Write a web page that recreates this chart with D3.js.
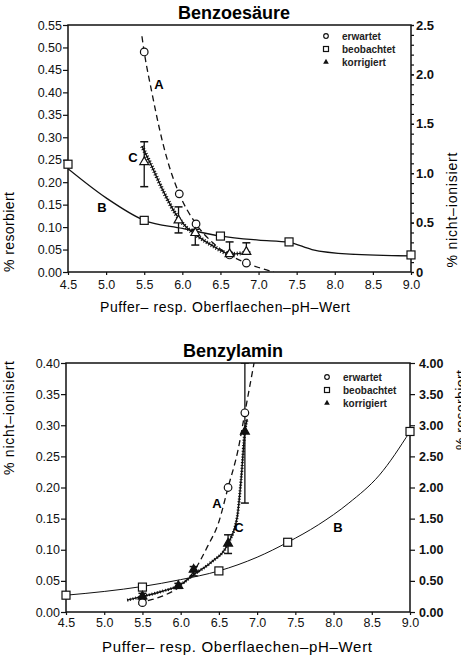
<!DOCTYPE html>
<html>
<head>
<meta charset="utf-8">
<script src="https://cdn.jsdelivr.net/npm/d3@7"></script>
<style>
  body { margin: 0; background: #fff; }
  svg { display: block; font-family: "Liberation Sans", Arial, sans-serif; }
</style>
</head>
<body>
<svg id="svg"></svg>
<script>
// --- Benzoesäure (oben) ---
const phTicks = [4.5, 5.0, 5.5, 6.0, 6.5, 7.0, 7.5, 8.0, 8.5, 9.0]
const benzoeLeftTicks = [0, 0.05, 0.1, 0.15, 0.2, 0.25, 0.3, 0.35, 0.4, 0.45, 0.5, 0.55]
const benzoeRightTicks = [0, 0.5, 1.0, 1.5, 2.0, 2.5]
const benzoeRightLabels = ['0', '0.5', '1.0', '1.5', '2.0', '2.5']

const benzoeErwartetPH = [5.5, 5.96, 6.18, 6.62, 6.84]
const benzoeErwartet = [0.49, 0.174, 0.107, 0.038, 0.02]
const benzoeBeobachtetPH = [4.5, 5.5, 6.5, 7.4, 9.0]
const benzoeBeobachtet = [0.24, 0.115, 0.08, 0.067, 0.038]
const benzoeKorrigiertPH = [5.5, 5.95, 6.17, 6.62, 6.84]
const benzoeKorrigiert = [0.245, 0.115, 0.087, 0.04, 0.045]
const benzoeKorrLo = [0.19, 0.087, 0.06, 0.04, 0.045]
const benzoeKorrHi = [0.29, 0.145, 0.095, 0.067, 0.065]

const benzoeA_PH = [5.47, 5.5, 5.6, 5.74, 5.82, 5.96, 6.18, 6.4, 6.62, 6.84, 7.0, 7.2]
const benzoeA = [0.525, 0.49, 0.40, 0.29, 0.24, 0.174, 0.107, 0.065, 0.038, 0.02, 0.01, 0.0]
const benzoeB_PH = [4.5, 5.0, 5.5, 6.0, 6.5, 7.0, 7.4, 7.7, 8.2, 9.0]
const benzoeB = [0.23, 0.165, 0.115, 0.097, 0.08, 0.071, 0.066, 0.05, 0.04, 0.036]
const benzoeC_PH = [5.47, 5.6, 5.75, 5.91, 6.05, 6.2, 6.4, 6.63, 6.78]
const benzoeC = [0.28, 0.235, 0.18, 0.13, 0.1, 0.08, 0.058, 0.04, 0.042]

// --- Benzylamin (unten) ---
const aminLeftTicks = [0, 0.05, 0.1, 0.15, 0.2, 0.25, 0.3, 0.35, 0.4]
const aminRightTicks = [0, 0.5, 1.0, 1.5, 2.0, 2.5, 3.0, 3.5, 4.0]

const aminErwartetPH = [5.5, 6.62, 6.84]
const aminErwartet = [0.015, 0.2, 0.32]
const aminBeobachtetPH = [4.5, 5.5, 6.5, 7.4, 9.0]
const aminBeobachtet = [0.027, 0.04, 0.066, 0.112, 0.29]
const aminKorrigiertPH = [5.5, 5.97, 6.17, 6.62, 6.84]
const aminKorrigiert = [0.025, 0.042, 0.068, 0.11, 0.29]
const aminKorrLo = [0.02, 0.038, 0.058, 0.094, 0.175]
const aminKorrHi = [0.03, 0.046, 0.073, 0.124, 0.40]

const aminA_PH = [5.45, 5.5, 5.75, 6.0, 6.17, 6.35, 6.5, 6.62, 6.75, 6.84, 6.96]
const aminA = [0.012, 0.015, 0.025, 0.042, 0.065, 0.105, 0.145, 0.2, 0.26, 0.32, 0.40]
const aminB_PH = [4.5, 5.0, 5.5, 6.0, 6.5, 7.0, 7.4, 7.8, 8.2, 8.6, 9.0]
const aminB = [0.027, 0.033, 0.041, 0.052, 0.066, 0.088, 0.112, 0.14, 0.175, 0.22, 0.29]
const aminC_PH = [5.3, 5.5, 5.75, 6.0, 6.17, 6.4, 6.62, 6.74, 6.79, 6.84, 6.87]
const aminC = [0.019, 0.025, 0.033, 0.044, 0.06, 0.08, 0.11, 0.153, 0.212, 0.29, 0.31]

const legendLabels = ['erwartet', 'beobachtet', 'korrigiert']
const xTitle = 'Puffer\u2013 resp. Oberflaechen\u2013pH\u2013Wert'

const zip = (xs, ys) => xs.map((x, i) => [x, ys[i]])

const svg = d3.select('#svg').attr('width', 461).attr('height', 658)

const drawPanel = (cfg) => {
	let x = d3.scaleLinear().domain([4.5, 9]).range([cfg.left, cfg.right])
	let y = d3.scaleLinear().domain([0, cfg.yMax]).range([cfg.bottom, cfg.top])
	let yR = d3.scaleLinear().domain([0, cfg.rMax]).range([cfg.bottom, cfg.top])

	let g = svg.append('g')

	g.append('clipPath').attr('id', cfg.id)
	.append('rect')
	.attr('x', cfg.left).attr('y', cfg.top)
	.attr('width', cfg.right - cfg.left).attr('height', cfg.bottom - cfg.top)

	// frame
	g.append('rect')
	.attr('x', cfg.left).attr('y', cfg.top)
	.attr('width', cfg.right - cfg.left).attr('height', cfg.bottom - cfg.top)
	.attr('fill', 'none').attr('stroke', '#111').attr('stroke-width', 1.5)

	// left axis
	let left = g.append('g').attr('transform', `translate(${cfg.left},0)`)
	.call(d3.axisLeft(y).tickValues(cfg.leftTicks).tickFormat(d3.format('.2f')).tickSize(5).tickPadding(1))
	left.select('.domain').remove()
	left.selectAll('text').attr('font-size', cfg.tickFont).attr('fill', '#111')

	// right axis
	let right = g.append('g').attr('transform', `translate(${cfg.right},0)`)
	.call(d3.axisRight(yR).tickValues(cfg.rightTicks).tickFormat((d, i) => cfg.rightLabels[i]).tickSize(cfg.rTick).tickPadding(cfg.rPad))
	right.select('.domain').remove()
	right.selectAll('text').attr('font-size', cfg.rFont).attr('font-weight', 'bold').attr('fill', '#111')
	if (cfg.minor) {
		g.append('g').attr('transform', `translate(${cfg.right},0)`)
		.call(d3.axisRight(yR).tickValues(d3.range(0, cfg.rMax + 0.001, 0.1)).tickFormat('').tickSize(3))
		.select('.domain').remove()
	}

	// bottom axis
	let bottom = g.append('g').attr('transform', `translate(0,${cfg.bottom})`)
	.call(d3.axisBottom(x).tickValues(phTicks).tickFormat(d3.format('.1f')).tickSize(3).tickPadding(cfg.xPad))
	bottom.select('.domain').remove()
	bottom.selectAll('text').attr('font-size', cfg.tickFont).attr('fill', '#111')

	g.selectAll('.tick line').attr('stroke', '#111').attr('stroke-width', 1.2)

	// title
	g.append('text')
	.attr('x', cfg.titleX).attr('y', cfg.top - 6)
	.attr('text-anchor', 'middle').attr('font-size', 18).attr('font-weight', 'bold')
	.text(cfg.title)

	// axis titles
	g.append('text')
	.attr('x', cfg.xTitleX).attr('y', cfg.xTitleY)
	.attr('text-anchor', 'middle').attr('font-size', cfg.xTitleFont)
	.attr('textLength', cfg.xTitleLen).attr('lengthAdjust', 'spacing')
	.text(xTitle)

	cfg.yTitles.forEach(t => {
		g.append('text')
		.attr('transform', `translate(${t.x},${t.y}) rotate(-90)`)
		.attr('text-anchor', 'middle').attr('font-size', 14)
		.attr('textLength', t.len).attr('lengthAdjust', 'spacing')
		.text(t.text)
	})

	// curves
	let line = d3.line()
	.x(d => x(d[0]))
	.y(d => y(d[1]))
	.curve(d3.curveMonotoneX)

	let plot = g.append('g').attr('clip-path', `url(#${cfg.id})`)

	plot.append('path').datum(cfg.curveB)
	.attr('d', line).attr('fill', 'none').attr('stroke', '#111').attr('stroke-width', cfg.bWidth)

	plot.append('path').datum(cfg.curveA)
	.attr('d', line).attr('fill', 'none').attr('stroke', '#111').attr('stroke-width', 1.3)
	.attr('stroke-dasharray', '6,4')

	plot.append('path').datum(cfg.curveC)
	.attr('d', line).attr('fill', 'none').attr('stroke', '#111').attr('stroke-width', 1.4)
	plot.append('path').datum(cfg.curveC)
	.attr('d', line).attr('fill', 'none').attr('stroke', '#111').attr('stroke-width', cfg.cHatch)
	.attr('stroke-dasharray', '1,1.8')

	// error bars
	cfg.errors.forEach(e => {
		plot.append('line')
		.attr('x1', x(e[0])).attr('x2', x(e[0]))
		.attr('y1', y(e[1])).attr('y2', y(e[2]))
		.attr('stroke', '#111').attr('stroke-width', 1.3)
		;[e[1], e[2]].forEach(v => {
			plot.append('line')
			.attr('x1', x(e[0]) - 4).attr('x2', x(e[0]) + 4)
			.attr('y1', y(v)).attr('y2', y(v))
			.attr('stroke', '#111').attr('stroke-width', 1.5)
		})
	})

	// markers
	g.selectAll(null).data(cfg.squares).enter().append('rect')
	.attr('x', d => x(d[0]) - 4).attr('y', d => y(d[1]) - 4)
	.attr('width', 8).attr('height', 8)
	.attr('fill', '#fff').attr('stroke', '#111').attr('stroke-width', 1.2)

	g.selectAll(null).data(cfg.circles).enter().append('circle')
	.attr('cx', d => x(d[0])).attr('cy', d => y(d[1])).attr('r', 3.8)
	.attr('fill', '#fff').attr('stroke', '#111').attr('stroke-width', 1.2)

	let tri = d3.symbol().type(d3.symbolTriangle).size(34)
	g.selectAll(null).data(cfg.triangles).enter().append('path')
	.attr('d', tri)
	.attr('transform', d => `translate(${x(d[0])},${y(d[1])})`)
	.attr('fill', cfg.triFill).attr('stroke', '#111').attr('stroke-width', 1.2)

	// curve labels
	cfg.curveLabels.forEach(l => {
		g.append('text').attr('x', l.x).attr('y', l.y)
		.attr('text-anchor', 'middle').attr('dominant-baseline', 'central')
		.attr('font-size', 13).attr('font-weight', 'bold').text(l.t)
	})

	// legend
	let leg = g.append('g').attr('transform', `translate(${cfg.legX},${cfg.legY})`)
	legendLabels.forEach((lab, i) => {
		let row = leg.append('g').attr('transform', `translate(0,${i * 13})`)
		if (i === 0) row.append('circle').attr('r', 2.3).attr('fill', '#fff').attr('stroke', '#111').attr('stroke-width', 1.2)
		if (i === 1) row.append('rect').attr('x', -2.5).attr('y', -2.5).attr('width', 5).attr('height', 5).attr('fill', '#fff').attr('stroke', '#111').attr('stroke-width', 1.2)
		if (i === 2) row.append('path').attr('d', d3.symbol().type(d3.symbolTriangle).size(14)).attr('fill', '#111')
		row.append('text').attr('x', 16).attr('dy', '0.35em')
		.attr('font-size', 10).attr('font-weight', 'bold').attr('fill', '#222').text(lab)
	})
}

drawPanel({
	id: 'clipTop', title: 'Benzoesäure', titleX: 234,
	left: 68, right: 411, top: 25, bottom: 272,
	yMax: 0.55, rMax: 2.5, leftTicks: benzoeLeftTicks,
	rightTicks: benzoeRightTicks, rightLabels: benzoeRightLabels,
	rTick: 3, rPad: 2, rFont: 13, minor: true, tickFont: 12.5, xPad: 5,
	xTitleX: 225, xTitleY: 312, xTitleFont: 14, xTitleLen: 250,
	yTitles: [
		{ x: 14, y: 232, len: 80, text: '% resorbiert' },
		{ x: 457, y: 210, len: 115, text: '% nicht\u2013ionisiert' }
	],
	curveA: zip(benzoeA_PH, benzoeA),
	curveB: zip(benzoeB_PH, benzoeB),
	curveC: zip(benzoeC_PH, benzoeC),
	bWidth: 1.3, cHatch: 4,
	circles: zip(benzoeErwartetPH, benzoeErwartet),
	squares: zip(benzoeBeobachtetPH, benzoeBeobachtet),
	triangles: zip(benzoeKorrigiertPH, benzoeKorrigiert),
	triFill: '#fff',
	errors: benzoeKorrigiertPH.map((p, i) => [p, benzoeKorrLo[i], benzoeKorrHi[i]]),
	curveLabels: [{ x: 159, y: 84, t: 'A' }, { x: 102, y: 207, t: 'B' }, { x: 133, y: 157, t: 'C' }],
	legX: 326, legY: 36
})

drawPanel({
	id: 'clipBot', title: 'Benzylamin', titleX: 233,
	left: 66, right: 410, top: 363, bottom: 612,
	yMax: 0.4, rMax: 4, leftTicks: aminLeftTicks,
	rightTicks: aminRightTicks, rightLabels: aminRightTicks.map(d3.format('.2f')),
	rTick: 5, rPad: 4, rFont: 12.5, minor: false, tickFont: 12.5, xPad: 3,
	xTitleX: 237, xTitleY: 652, xTitleFont: 15, xTitleLen: 270,
	yTitles: [
		{ x: 14, y: 418, len: 114, text: '% nicht\u2013ionisiert' },
		{ x: 466, y: 410, len: 80, text: '% resorbiert' }
	],
	curveA: zip(aminA_PH, aminA),
	curveB: zip(aminB_PH, aminB),
	curveC: zip(aminC_PH, aminC),
	bWidth: 1, cHatch: 3,
	circles: zip(aminErwartetPH, aminErwartet),
	squares: zip(aminBeobachtetPH, aminBeobachtet),
	triangles: zip(aminKorrigiertPH, aminKorrigiert),
	triFill: '#111',
	errors: aminKorrigiertPH.map((p, i) => [p, aminKorrLo[i], aminKorrHi[i]]),
	curveLabels: [{ x: 217, y: 503, t: 'A' }, { x: 338, y: 527, t: 'B' }, { x: 239, y: 527, t: 'C' }],
	legX: 327, legY: 377
})
</script>
</body>
</html>
